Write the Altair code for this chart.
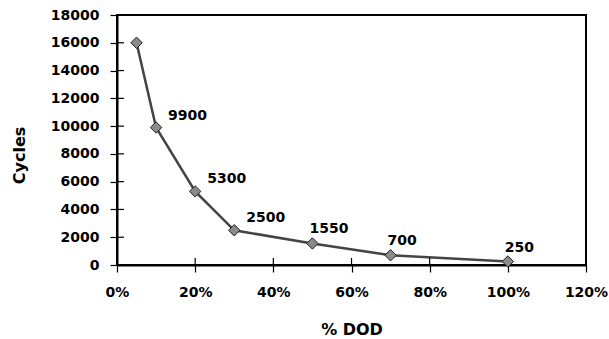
import altair as alt
import pandas as pd

# Data
dod = [0.05, 0.10, 0.20, 0.30, 0.50, 0.70, 1.00]
cycles = [16000, 9900, 5300, 2500, 1550, 700, 250]
labels = ["", "9900", "5300", "2500", "1550", "700", "250"]
y_ticks = [0, 2000, 4000, 6000, 8000, 10000, 12000, 14000, 16000, 18000]
x_ticks = [0, 0.2, 0.4, 0.6, 0.8, 1.0, 1.2]

df = pd.DataFrame({"dod": dod, "cycles": cycles, "label": labels})
df_y = pd.DataFrame({"v": y_ticks})
df_x = pd.DataFrame({"v": x_ticks})

FONT = "DejaVu Sans"

x_scale = alt.Scale(domain=[0, 1.2], nice=False, zero=True)
y_scale = alt.Scale(domain=[0, 18000], nice=False)

x_axis = alt.Axis(
    title="% DOD", values=x_ticks, format=".0%",
    labelPadding=13, titleY=64, titleBaseline="middle",
)
y_axis = alt.Axis(
    title="Cycles", values=y_ticks, format="d",
    labelPadding=11, titleX=-98, titleY=140, titleBaseline="middle", titleAngle=-90,
)

X = alt.X("dod:Q", scale=x_scale, axis=x_axis)
Y = alt.Y("cycles:Q", scale=y_scale, axis=y_axis)

base = alt.Chart(df)

line = base.mark_line(color="#444444", strokeWidth=2.5).encode(x=X, y=Y)
pts = base.mark_point(
    shape="diamond", size=130, filled=True, color="#8a8a8a",
    stroke="#222222", strokeWidth=1, opacity=1,
).encode(x=X, y=Y)

txt_a = base.transform_filter("datum.dod <= 0.3 && datum.label != ''").mark_text(
    align="left", baseline="middle", dx=12, dy=-12,
    font=FONT, fontSize=14, fontWeight="bold", color="black",
).encode(x=X, y=Y, text="label:N")

txt_b = base.transform_filter("datum.dod > 0.3").mark_text(
    align="left", baseline="middle", dx=-3, dy=-14,
    font=FONT, fontSize=14, fontWeight="bold", color="black",
).encode(x=X, y=Y, text="label:N")

# inner halves of crossing ticks
y_inner = alt.Chart(df_y).mark_rule(color="black", strokeWidth=1.2).encode(
    y=alt.Y("v:Q", scale=y_scale, axis=y_axis), x=alt.value(0), x2=alt.value(7)
)
x_inner = alt.Chart(df_x).mark_rule(color="black", strokeWidth=1.2).encode(
    x=alt.X("v:Q", scale=x_scale, axis=x_axis), y=alt.value(250), y2=alt.value(243)
)

chart = alt.layer(line, y_inner, x_inner, pts, txt_a, txt_b).properties(
    width=469, height=250,
    autosize=alt.AutoSizeParams(type="none"),
    padding={"left": 117, "top": 15, "right": 23, "bottom": 74},
    background="white",
).configure_view(
    stroke="black", strokeWidth=2
).configure_axis(
    grid=False, labelOverlap=False, labelFlush=False,
    domainColor="black", domainWidth=2, tickColor="black", tickWidth=1.2,
    tickSize=7, labelFont=FONT, labelFontSize=14,
    labelFontWeight="bold", labelColor="black",
    titleFont=FONT, titleFontSize=16, titleFontWeight="bold", titleColor="black",
)

chart.save("out.html", embed_options={"renderer": "svg", "actions": False})
